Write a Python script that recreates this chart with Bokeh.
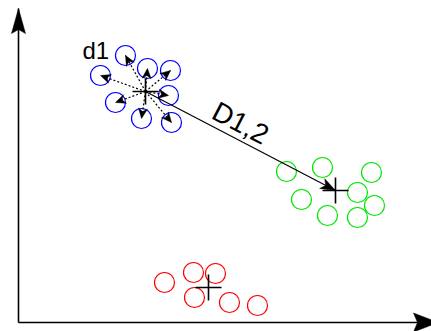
import math
from bokeh.plotting import figure
from bokeh.models import Range1d
from bokeh.core.properties import value
from bokeh.embed import file_html
from bokeh.resources import INLINE

# ---- data (feature space, origin at axes corner) ----
blue_x = [107, 129, 152, 82, 150, 97, 123, 153]
blue_y = [267, 254, 252, 247, 227, 220, 204, 200]
green_x = [268, 304, 353, 283, 339, 356, 309, 339]
green_y = [151, 155, 150, 123, 130, 117, 107, 105]
red_x = [146, 175, 197, 176, 211, 239]
red_y = [40, 50, 49, 25, 20, 17]
center_x = [127, 317, 190]   # blue, green, red cluster centres
center_y = [231, 132, 35]
axis_x_end = 420
axis_y_end = 314
label_intra = "d1"
label_inter = "D1,2"

BLUE, GREEN, RED = "#0000ff", "#00e600", "#ff0000"


def head(x0, y0, x1, y1, length, half_w, notch):
    dx, dy = x1 - x0, y1 - y0
    L = math.hypot(dx, dy)
    ux, uy = dx / L, dy / L
    px, py = -uy, ux
    bx, by = x1 - ux * length, y1 - uy * length
    nx, ny = x1 - ux * (length - notch), y1 - uy * (length - notch)
    xs = [x1, bx + px * half_w, nx, bx - px * half_w]
    ys = [y1, by + py * half_w, ny, by - py * half_w]
    return xs, ys


p = figure(width=431, height=331, x_range=Range1d(-18, 413), y_range=Range1d(-9, 322),
           output_backend="svg", toolbar_location=None, min_border=0,
           x_axis_type=None, y_axis_type=None)
p.outline_line_color = None
p.background_fill_color = "white"
p.border_fill_color = "white"

# axes with arrows
p.segment(x0=[0, 0], y0=[0, 0], x1=[axis_x_end, 0], y1=[0, axis_y_end],
          line_color="black", line_width=1.6)
hx, hy = [], []
a, b = head(0, 0, axis_x_end, 0, 25, 9.5, 4)
hx.append(a); hy.append(b)
a, b = head(0, 0, 0, axis_y_end, 25, 7, 4)
hx.append(a); hy.append(b)

# clusters
for xs, ys, c in [(blue_x, blue_y, BLUE), (green_x, green_y, GREEN), (red_x, red_y, RED)]:
    p.scatter(xs, ys, marker="circle", size=20, fill_color=None, line_color=c, line_width=1.2)

# dotted intra-cluster arrows
bcx, bcy = center_x[0], center_y[0]
p.segment(x0=[bcx] * len(blue_x), y0=[bcy] * len(blue_y), x1=blue_x, y1=blue_y,
          line_color="black", line_width=1.2, line_dash="2 2")
for x, y in zip(blue_x, blue_y):
    a, b = head(bcx, bcy, x, y, 10, 4.5, 3)
    hx.append(a); hy.append(b)

# inter-cluster arrow
gcx, gcy = center_x[1], center_y[1]
p.segment(x0=[bcx], y0=[bcy], x1=[gcx], y1=[gcy], line_color="black", line_width=1.2)
a, b = head(bcx, bcy, gcx, gcy, 15, 5.5, 4)
hx.append(a); hy.append(b)

p.patches(hx, hy, fill_color="black", line_color="black", line_width=0.5)

# centres
p.scatter(center_x, center_y, marker="cross", size=26, line_color="black", line_width=1.6)

# labels
p.text(x=[bcx], y=[bcy], text=[label_intra], x_offset=-63, y_offset=-41,
       text_font=value("Liberation Sans"), text_font_size="24px",
       text_align="left", text_baseline="alphabetic", text_color="black")
ang = math.atan2(gcy - bcy, gcx - bcx)
p.text(x=[(bcx + gcx) / 2], y=[(bcy + gcy) / 2], text=[label_inter], angle=[ang],
       x_offset=0, y_offset=-18,
       text_font=value("Liberation Sans"), text_font_size="28px",
       text_align="center", text_baseline="middle", text_color="black")

open("out.html", "w").write(file_html(p, INLINE))
